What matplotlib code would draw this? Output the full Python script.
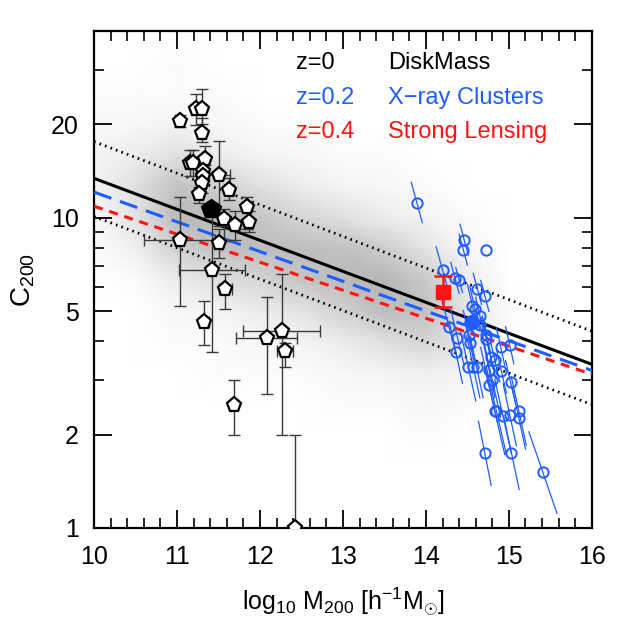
import numpy as np
import matplotlib
matplotlib.use("Agg")
import matplotlib.pyplot as plt
from matplotlib.colors import LinearSegmentedColormap

plt.rcParams['font.family'] = ['Liberation Sans', 'DejaVu Sans']
plt.rcParams['mathtext.fontset'] = 'custom'
plt.rcParams['mathtext.rm'] = 'Liberation Sans'
plt.rcParams['mathtext.it'] = 'Liberation Sans'

# ---------------- data ----------------
# simulated halo cloud: estimated point density (0-20) on a node grid
cloud_x = [10, 10.5, 11, 11.5, 12, 12.5, 13, 13.5, 14, 14.5, 15, 15.5, 16]
cloud_logc = [0.0, 0.1, 0.2, 0.3, 0.4, 0.5, 0.6, 0.7, 0.8, 0.9, 1.0, 1.1, 1.2, 1.3, 1.4, 1.5, 1.6]
cloud_density = [
    # 10 10.5 11 11.5 12 12.5 13 13.5 14 14.5 15 15.5 16
    [0, 0, 0, 0, 0, 0, 0, 0, 0, 0, 0, 0, 0],   # 0.0
    [0, 0, 0, 0, 0, 0, 0, 0, 0, 0, 0, 0, 0],   # 0.1
    [0, 0, 0, 0, 0, 0, 0, 0, 0, 0, 0, 0, 0],   # 0.2
    [0, 0, 0, 0, 0, 0, 0, 0, 1, 0, 0, 0, 0],   # 0.3
    [0, 0, 0, 0, 0, 0, 1, 1, 2, 1, 0, 0, 0],   # 0.4
    [0, 0, 0, 1, 1, 1, 2, 3, 4, 3, 0, 0, 0],   # 0.5
    [0, 0, 1, 1, 2, 3, 5, 8, 11, 6, 1, 0, 0],  # 0.6
    [0, 0, 2, 3, 5, 7, 12, 17, 16, 7, 1, 0, 0],  # 0.7
    [0, 1, 5, 8, 11, 15, 18, 19, 14, 5, 0, 0, 0],  # 0.8
    [1, 4, 12, 16, 17, 17, 16, 13, 7, 2, 0, 0, 0],  # 0.9
    [2, 7, 18, 18, 15, 11, 8, 5, 3, 1, 0, 0, 0],  # 1.0
    [3, 8, 16, 12, 8, 5, 3, 2, 1, 0, 0, 0, 0],  # 1.1
    [3, 5, 8, 5, 3, 2, 1, 1, 0, 0, 0, 0, 0],   # 1.2
    [2, 2, 3, 2, 1, 1, 0, 0, 0, 0, 0, 0, 0],   # 1.3
    [1, 1, 1, 1, 0, 0, 0, 0, 0, 0, 0, 0, 0],   # 1.4
    [0, 0, 1, 0, 0, 0, 0, 0, 0, 0, 0, 0, 0],   # 1.5
    [0, 0, 0, 0, 0, 0, 0, 0, 0, 0, 0, 0, 0],   # 1.6
]

# relation lines: c200 at log M = 10 and 16
rel_x = [10, 16]
rel_z0 = [13.4, 3.37]
rel_z02 = [12.1, 3.22]
rel_z04 = [10.9, 3.13]
rel_hi = [17.6, 4.31]
rel_lo = [10.1, 2.50]

# DiskMass galaxies (open pentagons)
dm_x = [11.03, 11.23, 11.30, 11.30, 11.16, 11.19, 11.34, 11.31, 11.31, 11.30, 11.26,
        11.51, 11.63, 11.84, 11.57, 11.70, 11.87, 11.03, 11.51, 11.42, 11.58, 11.33,
        11.69, 12.08, 12.26, 12.30, 12.42]
dm_c = [20.5, 22.4, 22.4, 18.7, 15.0, 15.0, 15.5, 14.2, 13.6, 12.9, 11.9,
        13.7, 12.3, 10.8, 9.9, 9.5, 9.7, 8.5, 8.3, 6.8, 5.9, 4.6,
        2.49, 4.11, 4.32, 3.72, 1.0]
dm_clo = [19.6, 19.9, 20.0, 17.6, 13.6, 13.6, 14.8, 13.3, 12.8, 12.0, 11.2,
          9.4, 11.4, 9.2, 8.4, 8.5, 9.0, 5.2, 7.4, 3.7, 5.1, 3.9,
          1.99, 2.7, 2.0, 3.3, 1.0]
dm_chi = [21.5, 25.1, 26.0, 20.9, 16.5, 16.5, 17.1, 15.3, 14.5, 13.8, 12.6,
          17.7, 13.4, 11.7, 10.7, 10.5, 10.5, 11.7, 9.2, 11.0, 6.6, 5.4,
          3.0, 5.55, 6.6, 3.96, 2.0]
dm_xerr = [0.04, 0.05, 0.05, 0.05, 0.06, 0.06, 0.05, 0.05, 0.05, 0.05, 0.05,
           0.13, 0.06, 0.05, 0.05, 0.05, 0.05, 0.43, 0.05, 0.40, 0.08, 0.05,
           0.04, 0.37, 0.46, 0.10, 0.0]
dm_mean_x = [11.41]
dm_mean_c = [10.7]

# X-ray clusters (open blue circles) with correlated error segments
xr_x = [13.89, 14.46, 14.45, 14.73, 14.20, 14.35, 14.40, 14.62, 14.71, 14.56,
        14.59, 14.65, 14.28, 14.65, 14.38, 14.52, 14.53, 14.73, 14.73, 14.90,
        15.01, 14.36, 14.78, 14.83, 14.51, 14.57, 14.61, 14.76, 14.91, 14.80,
        14.76, 15.02, 14.83, 14.85, 14.93, 15.01, 15.12, 15.12, 14.71, 15.03,
        15.41]
xr_c = [11.2, 8.5, 7.9, 7.9, 6.8, 6.4, 6.3, 5.9, 5.6, 5.2,
        5.1, 4.83, 4.43, 4.5, 4.11, 4.18, 3.94, 4.2, 4.06, 3.84,
        3.88, 3.69, 3.57, 3.48, 3.31, 3.31, 3.31, 3.24, 3.2, 3.0,
        2.90, 2.95, 2.38, 2.38, 2.29, 2.32, 2.38, 2.26, 1.74, 1.75,
        1.51]
xr_ex = [0.066, 0.05, 0.05, 0.0, 0.077, 0.05, 0.04, 0.05, 0.05, 0.06,
         0.06, 0.05, 0.10, 0.05, 0.08, 0.07, 0.06, 0.05, 0.06, 0.05,
         0.05, 0.08, 0.06, 0.06, 0.09, 0.08, 0.08, 0.07, 0.06, 0.10,
         0.10, 0.06, 0.12, 0.12, 0.10, 0.08, 0.09, 0.08, 0.077, 0.094,
         0.169]
xr_ey = [0.065, 0.05, 0.05, 0.0, 0.074, 0.05, 0.04, 0.05, 0.05, 0.07,
         0.07, 0.06, 0.10, 0.05, 0.09, 0.08, 0.07, 0.06, 0.07, 0.06,
         0.06, 0.10, 0.07, 0.07, 0.11, 0.10, 0.10, 0.09, 0.07, 0.12,
         0.12, 0.07, 0.14, 0.14, 0.12, 0.10, 0.11, 0.10, 0.104, 0.119,
         0.131]
xr_mean_x = [14.56]
xr_mean_c = [4.62]

# strong lensing (red square)
sl_x = [14.21]
sl_c = [5.78]
sl_clo = [5.14]
sl_chi = [6.48]

# axes
xticks = [10, 11, 12, 13, 14, 15, 16]
xminor = [10 + 0.2 * i for i in range(31)]
yticks = [1, 2, 5, 10, 20]
yminor = [3, 4, 6, 7, 8, 9, 30, 40]

BLUE = '#1f5dff'
RED = '#ff1414'

# ---------------- figure ----------------
fig = plt.figure(figsize=(6.23, 6.23), dpi=100)
ax = fig.add_axes([0.151, 0.1525, 0.799, 0.7977])
ax.set_yscale('log')
ax.set_xlim(10, 16)
ax.set_ylim(1, 40)

cmap = LinearSegmentedColormap.from_list('cl', ['#ffffff', '#b2b2b2'])
X, Y = np.meshgrid(cloud_x, 10 ** np.array(cloud_logc))
ax.pcolormesh(X, Y, np.array(cloud_density, float), shading='gouraud',
              cmap=cmap, vmin=0, vmax=20, zorder=0, rasterized=True)

ax.plot(rel_x, rel_hi, color='black', lw=2.0, dashes=(0.6, 1.5), zorder=2)
ax.plot(rel_x, rel_lo, color='black', lw=2.0, dashes=(0.6, 1.5), zorder=2)
ax.plot(rel_x, rel_z0, color='black', lw=2.2, zorder=3)
ax.plot(rel_x, rel_z02, color=BLUE, lw=2.2, dashes=(6, 3), zorder=3)
ax.plot(rel_x, rel_z04, color=RED, lw=2.2, dashes=(3, 2.2), zorder=3)

# DiskMass error bars
dm_x_a = np.array(dm_x)
dm_c_a = np.array(dm_c)
yerr = np.vstack([dm_c_a - np.array(dm_clo), np.array(dm_chi) - dm_c_a])
ax.errorbar(dm_x, dm_c, yerr=yerr, xerr=dm_xerr, fmt='none', ecolor='#3a3a3a',
            elinewidth=1.0, capsize=4.5, capthick=1.0, zorder=4)
ax.plot(dm_x, dm_c, 'p', ms=11, mfc='white', mec='black', mew=1.6, zorder=5)
ax.plot(dm_mean_x, dm_mean_c, 'p', ms=15, mfc='black', mec='black', zorder=6)

# X-ray clusters
for x, c, ex, ey in zip(xr_x, xr_c, xr_ex, xr_ey):
    lc = np.log10(c)
    ax.plot([x - ex, x + ex], [10 ** (lc + ey), 10 ** (lc - ey)], color=BLUE,
            lw=0.9, zorder=4)
ax.plot(xr_x, xr_c, 'o', ms=7.4, mfc='none', mec=BLUE, mew=1.4, zorder=5)
ax.plot(xr_mean_x, xr_mean_c, 'o', ms=10, mfc=BLUE, mec=BLUE, zorder=6)

# strong lensing
sl_err = np.vstack([np.array(sl_c) - np.array(sl_clo), np.array(sl_chi) - np.array(sl_c)])
ax.errorbar(sl_x, sl_c, yerr=sl_err, fmt='s', ms=9.5, color=RED, ecolor=RED,
            elinewidth=1.8, capsize=6.5, capthick=1.8, zorder=6)

# legend text
tx1, tx2 = 0.406, 0.590
rows = [(0.936, 'black', 'z=0', 'DiskMass'),
        (0.866, BLUE, 'z=0.2', 'X\u2212ray Clusters'),
        (0.796, RED, 'z=0.4', 'Strong Lensing')]
for yy, col, a, b in rows:
    ax.text(tx1, yy, a, color=col, fontsize=17, transform=ax.transAxes, va='center', ha='left')
    ax.text(tx2, yy, b, color=col, fontsize=17, transform=ax.transAxes, va='center', ha='left')

# ticks
ax.set_xticks(xticks)
ax.set_xticks(xminor, minor=True)
ax.set_yticks(yticks)
ax.set_yticklabels([str(v) for v in yticks])
ax.set_yticks(yminor, minor=True)
ax.yaxis.set_minor_formatter(plt.NullFormatter())
ax.tick_params(which='both', direction='in', top=True, right=True, labelsize=18)
ax.tick_params(which='major', length=13, width=1.3)
ax.tick_params(which='minor', length=7, width=1.2)
ax.tick_params(axis='x', which='major', pad=12)
ax.tick_params(axis='y', which='major', pad=11)
for s in ax.spines.values():
    s.set_linewidth(1.6)

ax.set_xlabel(r'$\mathrm{log_{10}\ M_{200}\ [h^{-1}M_{\odot}]}$', fontsize=18, labelpad=12)
ax.set_ylabel(r'$\mathrm{C_{200}}$', fontsize=20, labelpad=10)

fig.savefig('out.png', dpi=100)
